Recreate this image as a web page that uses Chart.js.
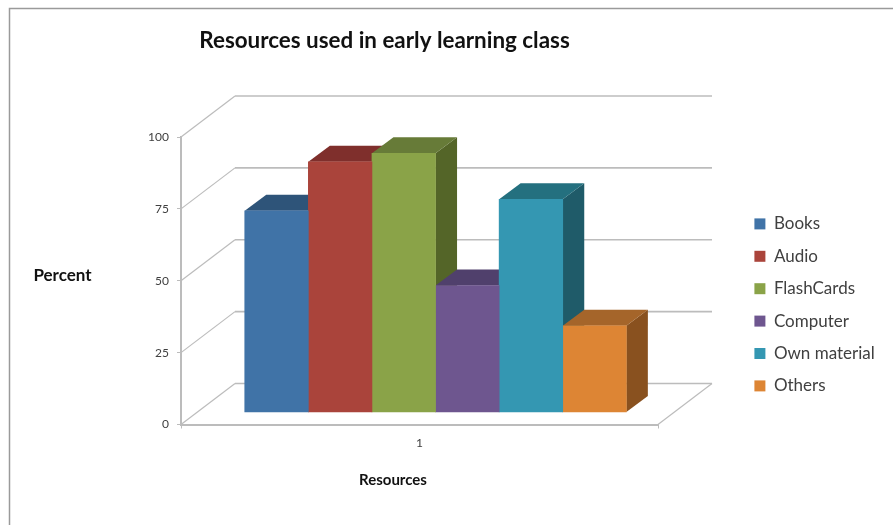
<!DOCTYPE html>
<html>
<head>
<meta charset="utf-8">
<title>Resources used in early learning class</title>
<script src="https://cdn.jsdelivr.net/npm/chart.js@4"></script>
<style>
    html, body { margin: 0; padding: 0; background: #fff; }
    canvas { display: block; }
</style>
</head>
<body>
<canvas id="resourceChart" width="893" height="525"></canvas>
<script>
const categories = ['1'];
const seriesNames = ['Books', 'Audio', 'FlashCards', 'Computer', 'Own material', 'Others'];
const seriesValues = [70, 87, 90, 44, 74, 30];
const yTicks = [0, 25, 50, 75, 100];

const frontColors = ['#4073a7', '#aa443b', '#8aa348', '#6e568f', '#3497b2', '#dd8534'];
const topColors = ['#2e5479', '#7f2f2c', '#677b38', '#50406c', '#24707f', '#a5652a'];
const sideColors = ['#28486a', '#6e2925', '#546528', '#453660', '#1f5b69', '#89511f'];

const gridColor = '#bcbcbc';
const textColor = '#404040';

// how far the back wall and the bars sit behind the axis plane
const wallDepth = { x: 54, y: -41 };
const barDepth = { x: 21.5, y: -16 };

// middle of the bar group on the hidden x2 scale
const groupCentre = 0.537;

function line(ctx, points, color, width) {
    ctx.beginPath();
    points.forEach((p, i) => i ? ctx.lineTo(p[0], p[1]) : ctx.moveTo(p[0], p[1]));
    ctx.strokeStyle = color;
    ctx.lineWidth = width;
    ctx.stroke();
}

function face(ctx, points, color) {
    ctx.beginPath();
    points.forEach((p, i) => i ? ctx.lineTo(p[0], p[1]) : ctx.moveTo(p[0], p[1]));
    ctx.closePath();
    ctx.fillStyle = color;
    ctx.fill();
}

function label(ctx, text, x, y, font) {
    ctx.font = font;
    ctx.fillStyle = '#111';
    ctx.textAlign = 'center';
    ctx.textBaseline = 'middle';
    ctx.fillText(text, x, y);
}

const framePlugin = {
    id: 'frame',
    beforeDraw(chart) {
        const ctx = chart.ctx;
        ctx.save();
        ctx.fillStyle = '#fff';
        ctx.fillRect(0, 0, chart.width, chart.height);
        line(ctx, [[9.5, 525], [9.5, 8.5], [893, 8.5]], '#9a9a9a', 1.5);
        label(ctx, 'Resources used in early learning class', 384.5, 41, 'bold 22.4px Lato');
        label(ctx, 'Percent', 62.5, 276, 'bold 17px Lato');
        label(ctx, 'Resources', 393, 480, 'bold 15px Lato');
        ctx.restore();
    }
};

const wallsPlugin = {
    id: 'walls',
    beforeDatasetsDraw(chart) {
        const ctx = chart.ctx;
        const yScale = chart.scales.y;
        const { left, right, bottom } = chart.chartArea;
        ctx.save();
        yTicks.forEach(tick => {
            const y = yScale.getPixelForValue(tick);
            line(ctx, [[left, y], [left + wallDepth.x, y + wallDepth.y]], gridColor, 1.2);
            line(ctx, [[left + wallDepth.x, y + wallDepth.y], [right + wallDepth.x, y + wallDepth.y]], gridColor, 1.6);
        });
        line(ctx, [[right, bottom], [right + wallDepth.x, bottom + wallDepth.y]], gridColor, 1.2);
        // top and side of every bar, left to right, the fronts go over them
        seriesNames.forEach((name, i) => {
            const bar = chart.getDatasetMeta(i).data[0];
            const half = bar.width / 2;
            const x0 = bar.x - half;
            const x1 = bar.x + half;
            const dx = barDepth.x;
            const dy = barDepth.y;
            face(ctx, [[x1, bar.y], [x1 + dx, bar.y + dy], [x1 + dx, bar.base + dy], [x1, bar.base]], sideColors[i]);
            face(ctx, [[x0, bar.y], [x0 + dx, bar.y + dy], [x1 + dx, bar.y + dy], [x1, bar.y]], topColors[i]);
        });
        ctx.restore();
    }
};

const legendPlugin = {
    id: 'legendPlace',
    afterLayout(chart) {
        const legend = chart.legend;
        legend.left = 739;
        legend.right = 893;
        legend.width = 154;
        legend.top = 200;
        legend.bottom = 450;
    }
};

const chartData = {
    labels: categories,
    datasets: seriesNames.map((name, i) => ({
        label: name,
        data: [{ x: groupCentre, y: seriesValues[i] }],
        xAxisID: 'x2',
        yAxisID: 'y2',
        backgroundColor: frontColors[i],
        borderWidth: 0,
        barThickness: 63.6
    }))
};

const chartConfig = {
    type: 'bar',
    data: chartData,
    options: {
        responsive: false,
        animation: false,
        layout: {
            padding: { top: 137, right: 235 }
        },
        plugins: {
            title: { display: false },
            tooltip: { enabled: false },
            legend: {
                position: 'chartArea',
                align: 'start',
                labels: {
                    boxWidth: 11,
                    boxHeight: 11,
                    padding: 15.4,
                    color: textColor,
                    font: { family: 'Lato', size: 17 }
                }
            }
        },
        scales: {
            x: {
                type: 'category',
                labels: categories,
                offset: true,
                afterFit: scale => { scale.height = 100.5; },
                border: { color: gridColor, width: 2 },
                grid: { offset: true, drawOnChartArea: false, color: gridColor, tickLength: 4 },
                ticks: { color: textColor, padding: 7, font: { family: 'Lato', size: 12 } }
            },
            y: {
                min: 0,
                max: 100,
                afterFit: scale => { scale.width = 181; },
                border: { color: gridColor, width: 2 },
                grid: { drawOnChartArea: false, color: gridColor, tickLength: 4 },
                ticks: { stepSize: 25, color: textColor, padding: 8, font: { family: 'Lato', size: 12 } }
            },
            x2: { type: 'linear', display: false, min: 0, max: 1 },
            // same step as y, but zero sits on the floor where the bars stand
            y2: { type: 'linear', display: false, position: 'right', min: -4.35, max: 95.65 }
        }
    },
    plugins: [framePlugin, wallsPlugin, legendPlugin]
};

new Chart(document.getElementById('resourceChart'), chartConfig);
</script>
</body>
</html>
